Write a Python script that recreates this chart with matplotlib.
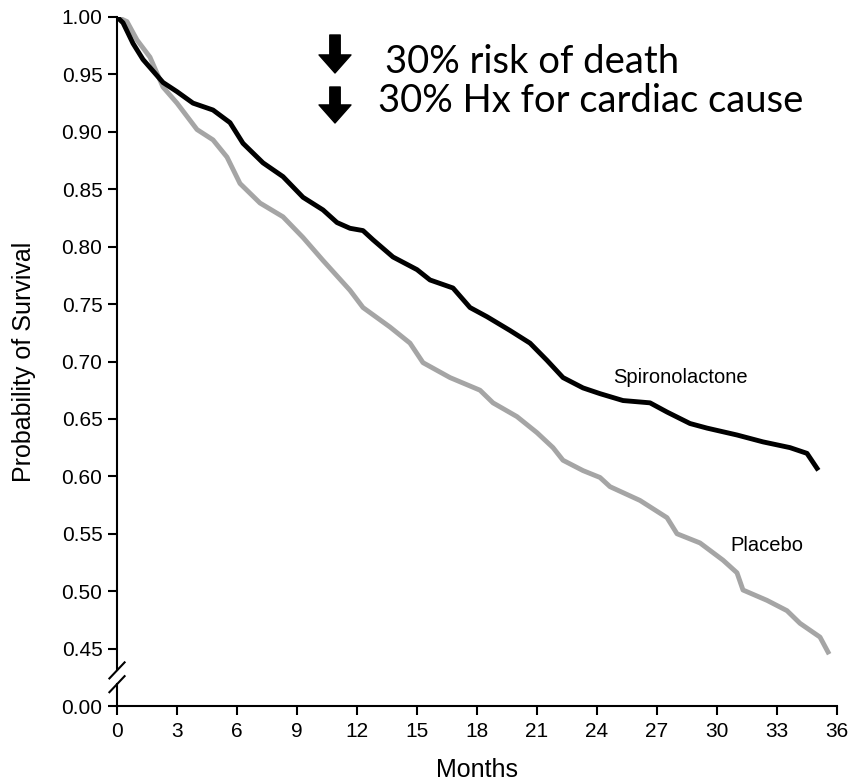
import matplotlib
matplotlib.use("Agg")
import matplotlib.pyplot as plt

# Spironolactone arm (months, probability of survival)
spiro_months = [0, 0.3, 0.8, 1.3, 2.3, 3.0, 3.8, 4.8, 5.65, 6.3, 7.3, 8.3, 9.3,
                10.3, 11.0, 11.65, 12.3, 12.8, 13.8, 15.0, 15.65, 16.8, 17.65,
                18.5, 19.65, 20.65, 21.5, 22.3, 23.3, 24.15, 25.3, 26.65, 27.5,
                28.65, 29.5, 31.0, 32.3, 33.65, 34.5, 35.0]
spiro_surv = [1.000, 0.995, 0.977, 0.963, 0.943, 0.935, 0.925, 0.919, 0.908,
              0.890, 0.873, 0.861, 0.843, 0.832, 0.821, 0.816, 0.814, 0.806,
              0.791, 0.780, 0.771, 0.764, 0.747, 0.739, 0.727, 0.716, 0.701,
              0.686, 0.677, 0.672, 0.666, 0.664, 0.656, 0.646, 0.642, 0.636,
              0.630, 0.625, 0.620, 0.607]

# Placebo arm
placebo_months = [0, 0.5, 1.0, 1.65, 2.3, 3.0, 4.0, 4.8, 5.5, 6.15, 7.15, 8.3,
                  9.3, 10.3, 11.65, 12.3, 13.65, 14.65, 15.3, 16.65, 18.15,
                  18.8, 20.0, 21.0, 21.8, 22.3, 23.3, 24.15, 24.65, 26.15,
                  27.5, 28.0, 29.15, 30.3, 31.0, 31.3, 32.5, 33.5, 34.15,
                  35.15, 35.55]
placebo_surv = [1.000, 0.996, 0.980, 0.965, 0.939, 0.925, 0.902, 0.893, 0.878,
                0.855, 0.838, 0.826, 0.808, 0.788, 0.762, 0.747, 0.730, 0.716,
                0.699, 0.686, 0.675, 0.664, 0.652, 0.638, 0.625, 0.614, 0.605,
                0.599, 0.591, 0.579, 0.564, 0.550, 0.542, 0.527, 0.516, 0.501,
                0.492, 0.483, 0.472, 0.460, 0.447]

x_ticks = list(range(0, 37, 3))
# broken axis: 0.00 is drawn one step below 0.45
y_ticks = [0.40, 0.45, 0.50, 0.55, 0.60, 0.65, 0.70, 0.75, 0.80, 0.85, 0.90, 0.95, 1.00]
y_labels = ["0.00", "0.45", "0.50", "0.55", "0.60", "0.65", "0.70", "0.75",
            "0.80", "0.85", "0.90", "0.95", "1.00"]

plt.rcParams['font.family'] = ['Liberation Sans', 'DejaVu Sans']

fig = plt.figure(figsize=(8.56, 7.81), dpi=100)
ax = fig.add_axes([117/856, 75/781, 720/856, 689/781])

ax.plot(placebo_months, placebo_surv, color='#a5a5a5', lw=3.5, solid_joinstyle='round')
ax.plot(spiro_months, spiro_surv, color='black', lw=3.5, solid_joinstyle='round')

ax.set_xlim(0, 36)
ax.set_ylim(0.40, 1.00)
ax.set_xticks(x_ticks)
ax.set_yticks(y_ticks)
ax.set_yticklabels(y_labels)
ax.tick_params(direction='out', length=6.5, width=1.5, labelsize=15)
ax.tick_params(axis='x', pad=5)
ax.tick_params(axis='y', pad=4)

for s in ['top', 'right', 'left']:
    ax.spines[s].set_visible(False)
ax.spines['bottom'].set_linewidth(1.5)

# left spine in two pieces with break marks
ax.plot([0, 0], [0.40, 0.419], color='black', lw=1.5, clip_on=False)
ax.plot([0, 0], [0.431, 1.00], color='black', lw=1.5, clip_on=False)
ax.plot([-0.38, 0.38], [0.412, 0.426], color='black', lw=1.5, clip_on=False)
ax.plot([-0.38, 0.38], [0.424, 0.438], color='black', lw=1.5, clip_on=False)

ax.set_xlabel('Months', fontsize=18, labelpad=12)
ax.set_ylabel('Probability of Survival', fontsize=18, labelpad=18)

ax.text(24.8, 0.6857, 'Spironolactone', fontsize=14.5, va='center', ha='left')
ax.text(30.65, 0.540, 'Placebo', fontsize=14.5, va='center', ha='left')

# headline annotations
arrow_kw = dict(arrowstyle='simple,head_width=23,head_length=13,tail_width=7.5',
                color='black', mutation_scale=1, shrinkA=0, shrinkB=0)
ax.annotate('', xy=(335, 708), xytext=(335, 746), xycoords='figure pixels',
            textcoords='figure pixels', arrowprops=arrow_kw)
ax.annotate('', xy=(335, 658), xytext=(335, 694), xycoords='figure pixels',
            textcoords='figure pixels', arrowprops=arrow_kw)
fig.text(385/856, 708/781, '30% risk of death', fontsize=27.5, family='Lato',
         va='baseline', ha='left')
fig.text(378/856, 669/781, '30% Hx for cardiac cause', fontsize=27.5, family='Lato',
         va='baseline', ha='left')

fig.savefig('out.png', dpi=100)
